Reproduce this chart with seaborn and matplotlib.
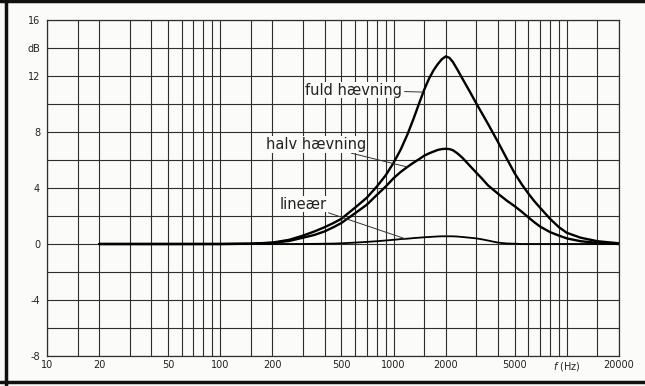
import matplotlib.pyplot as plt
import matplotlib.lines as mlines
import pandas as pd
import seaborn as sns

# frekvenser (Hz) og niveau (dB) aflaest fra kurverne
freq = [20, 100, 150, 200, 250, 300, 350, 400, 450, 500,
        600, 700, 800, 900, 1000, 1100, 1200, 1300, 1400, 1500,
        1600, 1700, 1800, 1900, 2000, 2100, 2200, 2350, 2500, 2750,
        3000, 3250, 3500, 4000, 4500, 5000, 5500, 6000, 6500, 7000,
        8000, 9000, 10000, 12000, 15000, 20000]
fuld = [0, 0, 0.02, 0.1, 0.3, 0.6, 0.9, 1.2, 1.5, 1.8,
        2.6, 3.3, 4.1, 4.9, 5.8, 6.75, 7.8, 8.9, 10.0, 11.0,
        11.8, 12.4, 12.85, 13.2, 13.4, 13.3, 13.0, 12.4, 11.8, 10.9,
        10.05, 9.3, 8.6, 7.3, 6.1, 5.05, 4.25, 3.6, 3.05, 2.6,
        1.8, 1.2, 0.8, 0.45, 0.2, 0.05]
halv = [0, 0, 0.02, 0.08, 0.22, 0.45, 0.65, 0.9, 1.2, 1.5,
        2.2, 2.8, 3.5, 4.1, 4.7, 5.15, 5.5, 5.8, 6.05, 6.3,
        6.47, 6.6, 6.72, 6.78, 6.8, 6.78, 6.7, 6.45, 6.15, 5.6,
        5.1, 4.65, 4.2, 3.6, 3.1, 2.7, 2.3, 1.9, 1.55, 1.25,
        0.85, 0.6, 0.4, 0.2, 0.08, 0]
linear = [0, 0, 0, 0, 0, 0, 0.01, 0.02, 0.03, 0.05,
          0.1, 0.15, 0.2, 0.25, 0.3, 0.35, 0.38, 0.42, 0.45, 0.48,
          0.5, 0.52, 0.54, 0.55, 0.55, 0.55, 0.55, 0.53, 0.5, 0.45,
          0.4, 0.33, 0.25, 0.1, 0.04, 0.02, 0, 0, 0, 0,
          0, 0, 0, 0, 0, 0]

# gitterlinjer og akse-tekster
grid_f = [10, 15, 20, 30, 40, 50, 60, 70, 80, 90,
          100, 150, 200, 300, 400, 500, 600, 700, 800, 900,
          1000, 1500, 2000, 3000, 4000, 5000, 6000, 7000, 8000, 9000,
          10000, 15000, 20000]
x_labels = {10: '10', 20: '20', 50: '50', 100: '100', 200: '200', 500: '500',
            1000: '1000', 2000: '2000', 5000: '5000', 10000: r'$f$ (Hz)', 20000: '20000'}
grid_db = list(range(-8, 17, 2))
y_labels = {16: '16', 14: 'dB', 12: '12', 8: '8', 4: '4', 0: '0', -4: '-4', -8: '-8'}

df = pd.DataFrame({'f': freq, 'fuld': fuld, 'halv': halv, 'linear': linear})

sns.set_style('white')
plt.rcParams['font.family'] = ['DejaVu Sans']

bg = '#fbfbf9'
fig = plt.figure(figsize=(6.45, 3.86), dpi=100)
fig.patch.set_facecolor(bg)
ax = fig.add_axes([47/645, 30/386, 572/645, 336/386])
ax.set_facecolor(bg)

sns.lineplot(data=df, x='f', y='linear', ax=ax, color='black', lw=1.3)
sns.lineplot(data=df, x='f', y='halv', ax=ax, color='black', lw=1.7)
sns.lineplot(data=df, x='f', y='fuld', ax=ax, color='black', lw=1.7)

ax.set_xscale('log')
ax.set_xlim(10, 20000)
ax.set_ylim(-8, 16)

ax.set_xticks(grid_f)
ax.set_xticklabels([x_labels.get(f, '') for f in grid_f])
ax.set_yticks(grid_db)
ax.set_yticklabels([y_labels.get(d, '') for d in grid_db])
ax.minorticks_off()
ax.tick_params(length=0, labelsize=7, colors='#222222')
ax.tick_params(axis='x', pad=3)
ax.tick_params(axis='y', pad=5)
ax.grid(True, color='#2e2e2e', lw=0.8)
ax.set_axisbelow(True)
for s in ax.spines.values():
    s.set_color('#2e2e2e')
    s.set_linewidth(0.9)
ax.set_xlabel('')
ax.set_ylabel('')

# kurvenavne med henvisningsstreger
pil = dict(arrowstyle='-', color='#333333', lw=0.7, shrinkA=1, shrinkB=0)
tekst = dict(ha='right', va='center', fontsize=10.5, color='#222222',
             arrowprops=pil, bbox=dict(fc=bg, ec='none', pad=0.5))
ax.annotate('fuld hævning', xy=(1480, 10.85), xytext=(1125, 11.0), **tekst)
ax.annotate('halv hævning', xy=(1200, 5.5), xytext=(700, 7.1), **tekst)
ax.annotate('lineær', xy=(1170, 0.37), xytext=(410, 2.85), **tekst)

# ramme fra den scannede side
for xs, ys in [([6/645, 6/645], [0, 1]), ([0, 1], [1 - 1/386, 1 - 1/386]), ([0, 1], [4/386, 4/386])]:
    fig.add_artist(mlines.Line2D(xs, ys, color='#111111', lw=2.5, transform=fig.transFigure))

fig.savefig('out.png', dpi=100, facecolor=fig.get_facecolor())
